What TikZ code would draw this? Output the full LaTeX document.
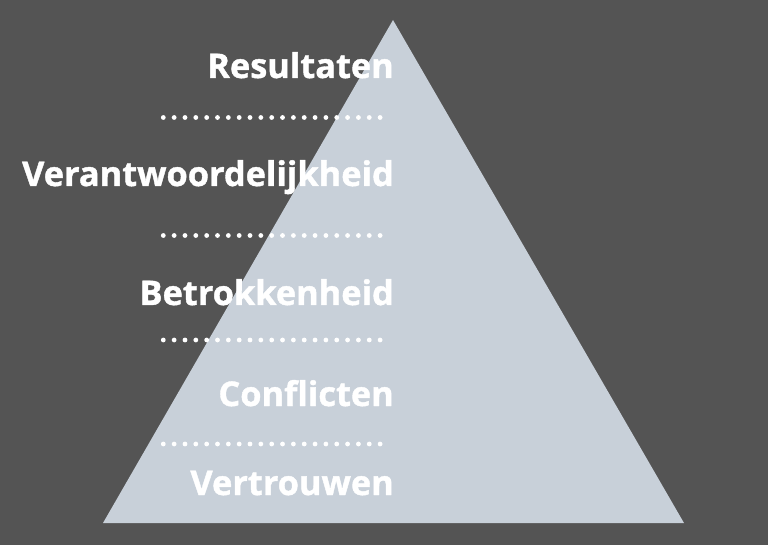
\documentclass[tikz,border=0pt]{standalone}
\usepackage{fontspec}
\setmainfont{Open Sans}[BoldFont={* Bold},BoldFeatures={FakeBold=1.2,FakeStretch=1.01}]
\definecolor{bg}{HTML}{545454}
\definecolor{tri}{HTML}{C8D0D9}
\begin{document}
\begin{tikzpicture}[x=1pt,y=-1pt,
  lbl/.style={anchor=base east,inner sep=0pt,text=white,font=\fontsize{34}{36}\selectfont\bfseries},
  dotc/.style={fill=white,draw=none}]
\fill[bg] (0,0) rectangle (768,545);
\useasboundingbox (0,0) rectangle (768,545);
\coordinate (apex) at (393,20);
\coordinate (bl) at (103,523);
\coordinate (br) at (684,523);
\fill[tri] (apex) -- (bl) -- (br) -- cycle;
\node[lbl] (t1) at (394,78) {Resultaten};
\node[lbl] (t2) at (394,186) {Verantwoordelijkheid};
\node[lbl] (t3) at (394,305) {Betrokkenheid};
\node[lbl] (t4) at (394,406) {Conflicten};
\node[lbl] (t5) at (394,495) {Vertrouwen};
\foreach \y in {117.5,235.5,340,444}{
  \foreach \i in {0,...,20}{
    \fill[dotc] (163.3+\i*10.84,\y) circle (2.4);
  }
}
\end{tikzpicture}
\end{document}
